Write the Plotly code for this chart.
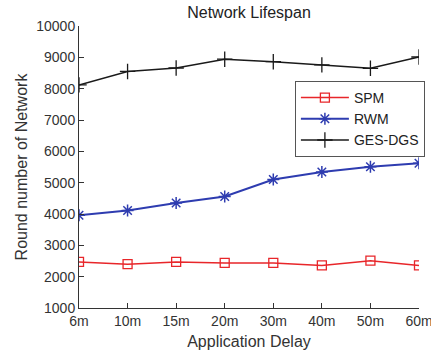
import plotly.graph_objects as go

categories = ["6m", "10m", "15m", "20m", "30m", "40m", "50m", "60m"]
spm = [2470, 2400, 2470, 2440, 2440, 2360, 2510, 2360]
rwm = [3960, 4110, 4350, 4560, 5100, 5340, 5510, 5620]
ges = [8120, 8550, 8660, 8940, 8860, 8760, 8650, 9010]
yticks = [1000, 2000, 3000, 4000, 5000, 6000, 7000, 8000, 9000, 10000]
yticklabels = [str(v) for v in yticks]

fig = go.Figure()
fig.add_trace(go.Scatter(x=categories, y=spm, name="SPM", mode="lines+markers",
                         line=dict(color="#e8262a", width=1.5),
                         marker=dict(symbol="square-open", size=9, color="#e8262a", line=dict(width=1.3))))
fig.add_trace(go.Scatter(x=categories, y=rwm, name="RWM", mode="lines+markers",
                         line=dict(color="#2e3cb0", width=2),
                         marker=dict(symbol="asterisk-open", size=10, color="#2e3cb0", line=dict(width=1.5, color="#2e3cb0"))))
fig.add_trace(go.Scatter(x=categories, y=ges, name="GES-DGS", mode="lines+markers",
                         line=dict(color="#1a1a1a", width=1.5),
                         marker=dict(symbol="cross-thin-open", size=11, color="#1a1a1a", line=dict(width=1.3, color="#1a1a1a"))))

fig.update_layout(
    width=431, height=357,
    margin=dict(l=79, r=12, t=26, b=49, autoexpand=False),
    paper_bgcolor="white", plot_bgcolor="white",
    font=dict(family="Liberation Sans, Arial", size=14, color="#333"),
    title=dict(text="Network Lifespan", x=0.5, xref="paper", xanchor="center", y=0.965, yanchor="middle",
               font=dict(size=16, color="#222")),
    showlegend=True,
    legend=dict(x=0.635, y=0.805, xanchor="left", yanchor="top", bordercolor="#555", borderwidth=1,
                bgcolor="white", font=dict(size=14, color="#222"), tracegroupgap=0, itemwidth=48),
    xaxis=dict(type="category", range=[0, 7], showgrid=False, showline=True, linecolor="#333", linewidth=1,
               ticks="inside", ticklen=5, tickcolor="#333", automargin=False,
               title=dict(text="Application Delay", font=dict(size=16), standoff=8),
               tickfont=dict(size=14, color="#333"), zeroline=False),
    yaxis=dict(range=[1000, 10000], tickvals=yticks, ticktext=yticklabels, showgrid=False, showline=True,
               linecolor="#333", linewidth=1, ticks="inside", ticklen=5, tickcolor="#333", automargin=False,
               title=dict(text="Round number of Network", font=dict(size=16), standoff=4),
               tickfont=dict(size=14, color="#333"), zeroline=False),
)
fig.write_html("out.html")
